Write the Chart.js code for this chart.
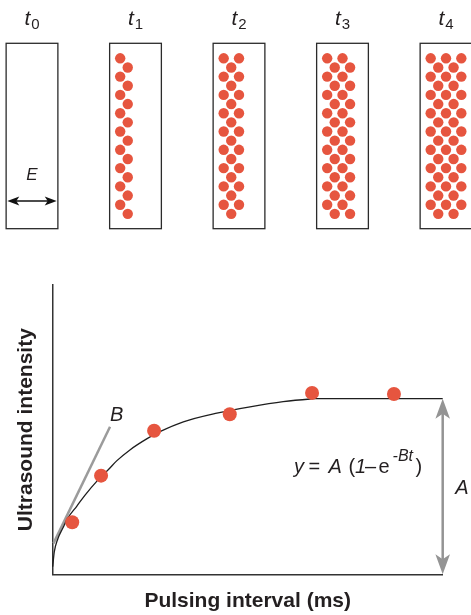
<!DOCTYPE html>
<html>
<head>
<meta charset="utf-8">
<script src="https://cdn.jsdelivr.net/npm/chart.js@4.4.0/dist/chart.umd.min.js"></script>
<style>
html,body{margin:0;padding:0;background:#fff;width:471px;height:615px;overflow:hidden}
#wrap{position:relative;width:471px;height:615px}
canvas{position:absolute;left:0}
#topChart{top:0}
#plotChart{top:250px}
</style>
</head>
<body>
<div id="wrap">
<canvas id="topChart" width="471" height="250"></canvas>
<canvas id="plotChart" width="471" height="365"></canvas>
</div>
<script>
// slice snapshots t0..t4 : how many bubbles sit across each row
var snapLabels = ['0', '1', '2', '3', '4'];
var colsOddRow = [0, 1, 2, 2, 3];
var colsEvenRow = [0, 1, 1, 2, 2];
var rowsPerCol = 9;

// measured intensity vs pulsing interval
var pointX = [0.50, 1.24, 2.60, 4.54, 6.65, 8.75];
var pointY = [1.80, 3.41, 4.96, 5.53, 6.27, 6.23];

// fitted curve
var curveX = [0, 0.04, 0.13, 0.26, 0.39, 0.62, 0.83, 1.14, 1.43, 1.64, 1.98, 2.41, 2.75, 3.35, 4.21, 5.06, 5.91, 6.60, 6.73, 10];
var curveY = [0.26, 0.77, 1.22, 1.60, 1.95, 2.36, 2.74, 3.23, 3.62, 3.92, 4.30, 4.68, 4.93, 5.27, 5.57, 5.79, 5.97, 6.06, 6.07, 6.07];

// initial slope B and plateau A
var tangentX = [0.02, 1.47];
var tangentY = [1.07, 5.10];
var plateauA = 6.07;

var RED = '#e6553f';
var FONT = "'Liberation Sans', Arial, Helvetica, sans-serif";
Chart.defaults.font.family = FONT;

function arrowHead(ctx, x, y, angle, len, half, notch) {
    ctx.save();
    ctx.translate(x, y);
    ctx.rotate(angle);
    ctx.beginPath();
    ctx.moveTo(0, 0);
    ctx.lineTo(-len, -half);
    ctx.lineTo(-len + notch, 0);
    ctx.lineTo(-len, half);
    ctx.closePath();
    ctx.fill();
    ctx.restore();
}

// ---------- top panel ----------
var dots = [];
for (var i = 0; i < snapLabels.length; i++) {
    for (var r = 0; r < rowsPerCol; r++) {
        for (var k = 0; k < colsOddRow[i]; k++) dots.push({x: i - 0.148 + 0.148 * k, y: 2 * r});
        for (var k = 0; k < colsEvenRow[i]; k++) dots.push({x: i - 0.075 + 0.148 * k, y: 2 * r + 1});
    }
}

var boxPlugin = {
    id: 'boxes',
    beforeDatasetsDraw: function(chart) {
        var ctx = chart.ctx, x = chart.scales.x, y = chart.scales.y;
        ctx.save();
        ctx.strokeStyle = '#2b2b2b';
        ctx.lineWidth = 1.3;
        var t = y.getPixelForValue(-1.64), b = y.getPixelForValue(18.62);
        for (var i = 0; i < snapLabels.length; i++) {
            var l = x.getPixelForValue(i - 0.25), rr = x.getPixelForValue(i + 0.25);
            ctx.strokeRect(l, t, rr - l, b - t);
            // label t with subscript
            var cx = x.getPixelForValue(i), base = y.getPixelForValue(-3.64);
            ctx.fillStyle = '#231f20';
            ctx.font = 'italic 21px ' + FONT;
            var wt = ctx.measureText('t').width;
            ctx.font = '15px ' + FONT;
            var ws = ctx.measureText(snapLabels[i]).width;
            var sx = cx - (wt + ws + 1) / 2;
            ctx.textBaseline = 'alphabetic';
            ctx.textAlign = 'left';
            ctx.font = 'italic 21px ' + FONT;
            ctx.fillText('t', sx, base);
            ctx.font = '15px ' + FONT;
            ctx.fillText(snapLabels[i], sx + wt + 1, base + 4);
        }
        // E double arrow in the empty slice
        var ey = y.getPixelForValue(15.6);
        var x1 = x.getPixelForValue(-0.2386), x2 = x.getPixelForValue(0.2386);
        ctx.strokeStyle = '#111';
        ctx.fillStyle = '#111';
        ctx.lineWidth = 1.5;
        ctx.beginPath();
        ctx.moveTo(x1 + 6, ey);
        ctx.lineTo(x2 - 6, ey);
        ctx.stroke();
        arrowHead(ctx, x1, ey, Math.PI, 12, 4.5, 3);
        arrowHead(ctx, x2, ey, 0, 12, 4.5, 3);
        ctx.font = 'italic 17px ' + FONT;
        ctx.textAlign = 'center';
        ctx.fillStyle = '#231f20';
        ctx.fillText('E', x.getPixelForValue(0), y.getPixelForValue(13.3));
        ctx.restore();
    }
};

new Chart(document.getElementById('topChart'), {
    type: 'scatter',
    data: {
        datasets: [{
            data: dots,
            backgroundColor: RED,
            borderWidth: 0,
            pointRadius: 5.2,
            clip: false
        }]
    },
    options: {
        responsive: false,
        animation: false,
        events: [],
        layout: {padding: 0, autoPadding: false},
        plugins: {legend: {display: false}, tooltip: {enabled: false}},
        scales: {
            x: {type: 'linear', display: false, min: -0.3092, max: 4.2415},
            y: {type: 'linear', display: false, reverse: true, min: -6.372, max: 20.95}
        }
    },
    plugins: [boxPlugin]
});

// ---------- bottom panel ----------
var eqPieces = [
    ['y', 'italic', 20, 0, 0],
    ['=', 'normal', 20, 14.3, 0],
    ['A', 'italic', 20, 34.3, 0],
    ['(', 'normal', 20, 54.3, 0],
    ['1', 'italic', 20, 61, 0],
    ['\u2013', 'normal', 20, 71, 0],
    ['e', 'normal', 20, 84.3, 0],
    ['-Bt', 'italic', 16, 98.5, -12],
    [')', 'normal', 20, 121.5, 0]
];

var notePlugin = {
    id: 'notes',
    afterDatasetsDraw: function(chart) {
        var ctx = chart.ctx, x = chart.scales.x, y = chart.scales.y;
        ctx.save();
        ctx.fillStyle = '#949494';
        var ax = x.getPixelForValue(10);
        arrowHead(ctx, ax, y.getPixelForValue(plateauA), -Math.PI / 2, 20, 7.3, 5);
        arrowHead(ctx, ax, y.getPixelForValue(0), Math.PI / 2, 20, 7.3, 5);

        ctx.fillStyle = '#231f20';
        ctx.textAlign = 'left';
        ctx.textBaseline = 'alphabetic';
        ctx.font = 'italic 20px ' + FONT;
        ctx.fillText('B', x.getPixelForValue(1.47), y.getPixelForValue(5.31));
        ctx.fillText('A', x.getPixelForValue(10.32), y.getPixelForValue(2.78));

        var ex = x.getPixelForValue(6.19), ey = y.getPixelForValue(3.49);
        eqPieces.forEach(function(p) {
            ctx.font = (p[1] === 'italic' ? 'italic ' : '') + p[2] + 'px ' + FONT;
            ctx.fillText(p[0], ex + p[3], ey + p[4]);
        });
        ctx.restore();
    }
};

function pairs(xs, ys) {
    return xs.map(function(v, i) { return {x: v, y: ys[i]}; });
}

new Chart(document.getElementById('plotChart'), {
    type: 'scatter',
    data: {
        datasets: [
            {data: pairs(pointX, pointY), backgroundColor: RED, borderWidth: 0, pointRadius: 7, clip: false},
            {data: pairs(curveX, curveY), showLine: true, borderColor: '#1e1e1e', borderWidth: 1.3,
             pointRadius: 0, cubicInterpolationMode: 'monotone', clip: false},
            {data: pairs(tangentX, tangentY), showLine: true, borderColor: '#9b9b9b', borderWidth: 2.5,
             pointRadius: 0, clip: false},
            {data: [{x: 10, y: plateauA - 0.5}, {x: 10, y: 0.5}], showLine: true, borderColor: '#949494',
             borderWidth: 2.5, pointRadius: 0, clip: false}
        ]
    },
    options: {
        responsive: false,
        animation: false,
        events: [],
        layout: {padding: {left: 14.1, top: 35, right: 28.3, bottom: 0}, autoPadding: false},
        plugins: {legend: {display: false}, tooltip: {enabled: false}},
        scales: {
            x: {
                type: 'linear', min: 0, max: 10,
                grid: {display: false, drawTicks: false},
                ticks: {display: false},
                border: {display: true, color: '#333', width: 1.5},
                title: {display: true, text: 'Pulsing interval (ms)', color: '#231f20',
                        font: {size: 21, weight: 'bold'}, padding: {top: 14.8, bottom: 0.7}}
            },
            y: {
                type: 'linear', min: 0, max: 10,
                grid: {display: false, drawTicks: false},
                ticks: {display: false},
                border: {display: true, color: '#333', width: 1.5},
                title: {display: true, text: 'Ultrasound intensity', color: '#231f20',
                        font: {size: 21, weight: 'bold'}, padding: {top: 0, bottom: 13.4}}
            }
        }
    },
    plugins: [notePlugin]
});
</script>
</body>
</html>
